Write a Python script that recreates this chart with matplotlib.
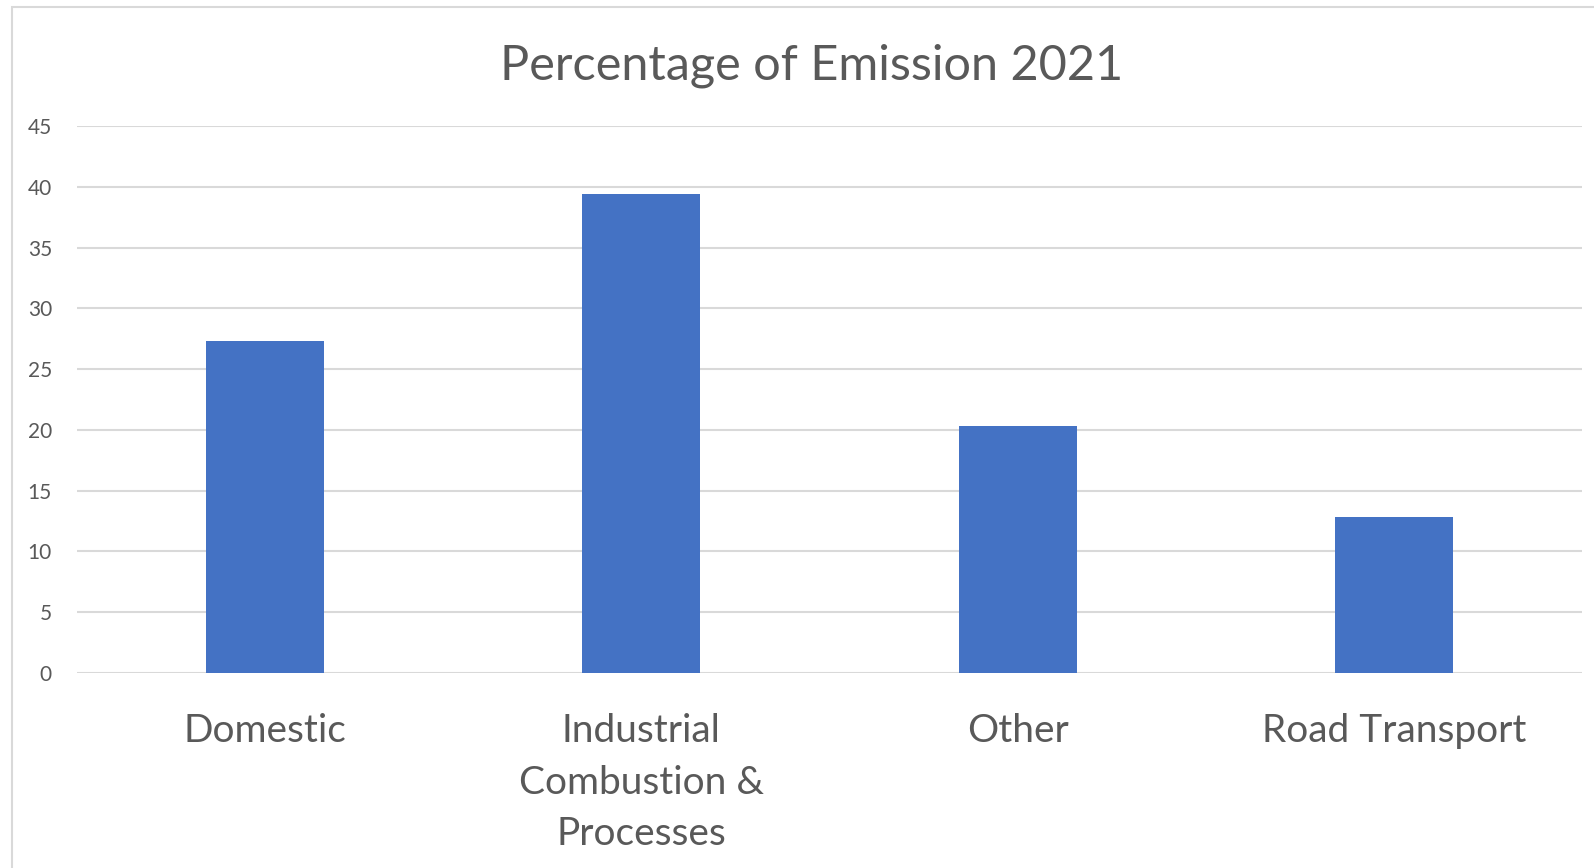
import matplotlib.pyplot as plt
from matplotlib.patches import Rectangle

categories = ['Domestic', 'Industrial\nCombustion &\nProcesses', 'Other', 'Road Transport']
values = [27.3, 39.4, 20.3, 12.8]
y_ticks = [0, 5, 10, 15, 20, 25, 30, 35, 40, 45]

plt.rcParams['font.family'] = ['Lato', 'DejaVu Sans']
text_color = '#595959'
grid_color = '#D9D9D9'

fig = plt.figure(figsize=(15.94, 8.68), dpi=100)
ax = fig.add_axes([77 / 1594, 1 - 673 / 868, 1505 / 1594, 547 / 868])

x = list(range(len(categories)))
ax.bar(x, values, width=0.314, color='#4472C4', zorder=3)

ax.set_xlim(-0.5, len(categories) - 0.5)
ax.set_ylim(0, 45)
ax.set_yticks(y_ticks)
ax.set_yticklabels([str(t) for t in y_ticks], fontsize=15, color=text_color)
ax.set_xticks(x)
ax.set_xticklabels(categories, fontsize=28, color=text_color, linespacing=1.53, va='top')
ax.tick_params(axis='y', length=0, pad=18)
ax.tick_params(axis='x', length=0, pad=29)

# 网格线
ax.grid(axis='y', color=grid_color, linewidth=1.5, zorder=0)
for s in ax.spines.values():
    s.set_visible(False)

fig.text(812 / 1594, 1 - 66 / 868, 'Percentage of Emission 2021', ha='center', va='center',
         fontsize=35, color=text_color)

# 图表外框
fig.patches.append(Rectangle((12 / 1594, -0.1), 1.2, 1 - 7.5 / 868 + 0.1, transform=fig.transFigure,
                             fill=False, edgecolor=grid_color, linewidth=1.5, zorder=0))

fig.savefig('out.png', dpi=100)
